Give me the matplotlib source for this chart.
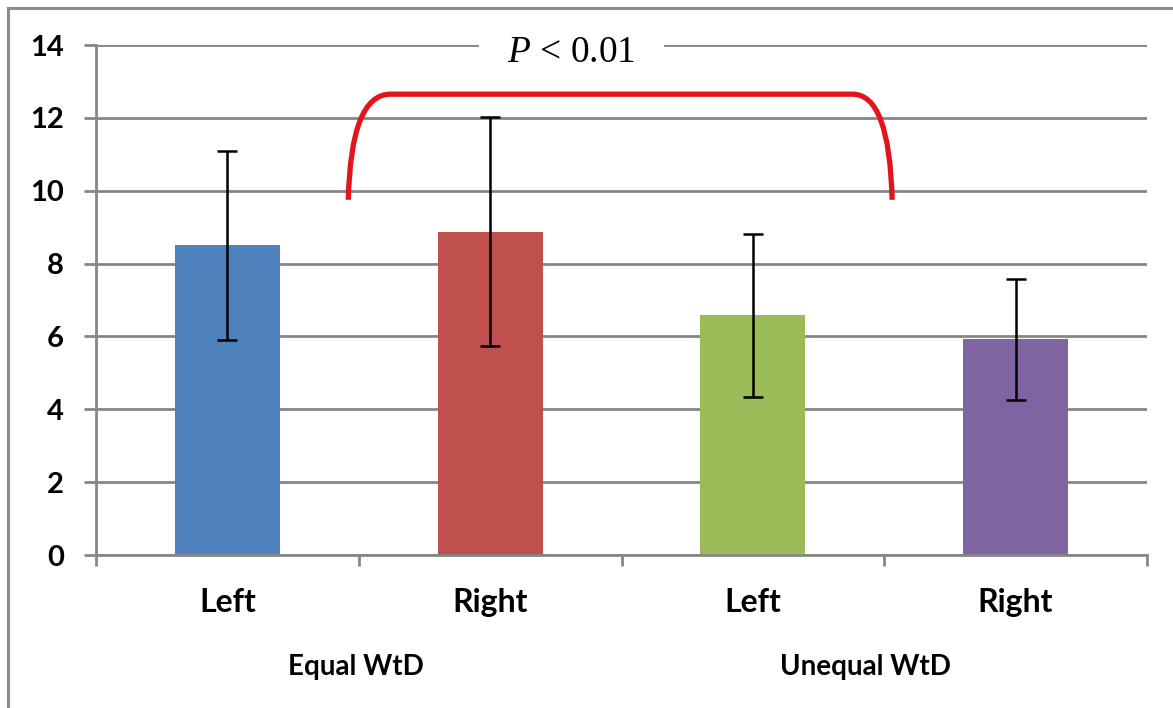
import numpy as np
import matplotlib.pyplot as plt
from matplotlib.path import Path
from matplotlib.patches import PathPatch
from matplotlib.lines import Line2D
import matplotlib.transforms as mtransforms

######################################################################
## data
sides = ['Left', 'Right', 'Left', 'Right']
groups = ['Equal WtD', 'Unequal WtD']
means = [8.5, 8.88, 6.58, 5.92]
errs = [2.6, 3.15, 2.23, 1.67]
colors = ['#4f81bd', '#c0504d', '#9bbb59', '#8064a2']
yticks = [0, 2, 4, 6, 8, 10, 12, 14]

GRAY = '#868686'
FONT = 'Lato'

plt.rcParams['mathtext.fontset'] = 'custom'
plt.rcParams['mathtext.it'] = 'Liberation Serif:italic'
plt.rcParams['mathtext.rm'] = 'Liberation Serif'

fig = plt.figure(figsize=(11.73, 7.08), dpi=100)
ax = fig.add_axes([96/1173, 1-555/708, (1147-96)/1173, (555-45)/708])

x = np.arange(len(means))
ax.bar(x, means, width=0.4, color=colors, zorder=2)
ax.errorbar(x, means, yerr=errs, fmt='none', ecolor='black',
            elinewidth=1.8, capsize=7, capthick=1.8, zorder=3)

ax.set_xlim(-0.5, 3.5)
ax.set_ylim(0, 14)
ax.set_yticks(yticks)
ax.set_yticklabels([str(v) for v in yticks], fontsize=21, fontweight='bold',
                   family=FONT)
ax.yaxis.grid(True, color=GRAY, linewidth=2, zorder=0)
ax.set_axisbelow(True)

## boundaries ticks (no labels) + centred category labels
ax.set_xticks(np.arange(-0.5, 4, 1.0))
ax.set_xticklabels([])
ax.set_xticks(x, minor=True)
ax.set_xticklabels(sides, minor=True, fontsize=23, fontweight='bold', family=FONT)
ax.tick_params(axis='x', which='minor', length=0, pad=24)
ax.tick_params(axis='x', which='major', length=8, width=2, color=GRAY)
ax.tick_params(axis='y', length=9, width=2, color=GRAY, pad=14)

for s in ['top', 'right']:
    ax.spines[s].set_visible(False)
for s in ['left', 'bottom']:
    ax.spines[s].set_color(GRAY)
    ax.spines[s].set_linewidth(2)

## group labels sit a bit left of the group centres in the original
trans = mtransforms.blended_transform_factory(ax.transData, ax.transAxes)
for g, gx in zip(groups, [0.49, 2.43]):
    ax.text(gx, -0.22, g, transform=trans, ha='center', va='center',
            fontsize=20, fontweight='bold', family=FONT)

## significance bracket
verts = [(0.46, 9.75), (0.47, 12.65), (0.62, 12.65),
         (2.38, 12.65),
         (2.52, 12.65), (2.53, 9.75)]
codes = [Path.MOVETO, Path.CURVE3, Path.CURVE3,
         Path.LINETO,
         Path.CURVE3, Path.CURVE3]
ax.add_patch(PathPatch(Path(verts, codes), facecolor='none', edgecolor='#e3141b',
                       linewidth=3.8, capstyle='butt', zorder=5, clip_on=False))

ax.text(1.31, 13.8, r'$\mathit{P}$ < 0.01', ha='center', va='center',
        fontsize=27, family='Liberation Serif', zorder=4,
        bbox=dict(boxstyle='square,pad=0.75', facecolor='white', edgecolor='none'))

## outer border of the picture
fig.add_artist(Line2D([8/1173, 1], [1-8/708, 1-8/708], color='#8c8c8c',
                      linewidth=2.2, transform=fig.transFigure))
fig.add_artist(Line2D([8/1173, 8/1173], [0, 1-8/708], color='#8c8c8c',
                      linewidth=2.2, transform=fig.transFigure))

fig.savefig('out.png', dpi=100)
